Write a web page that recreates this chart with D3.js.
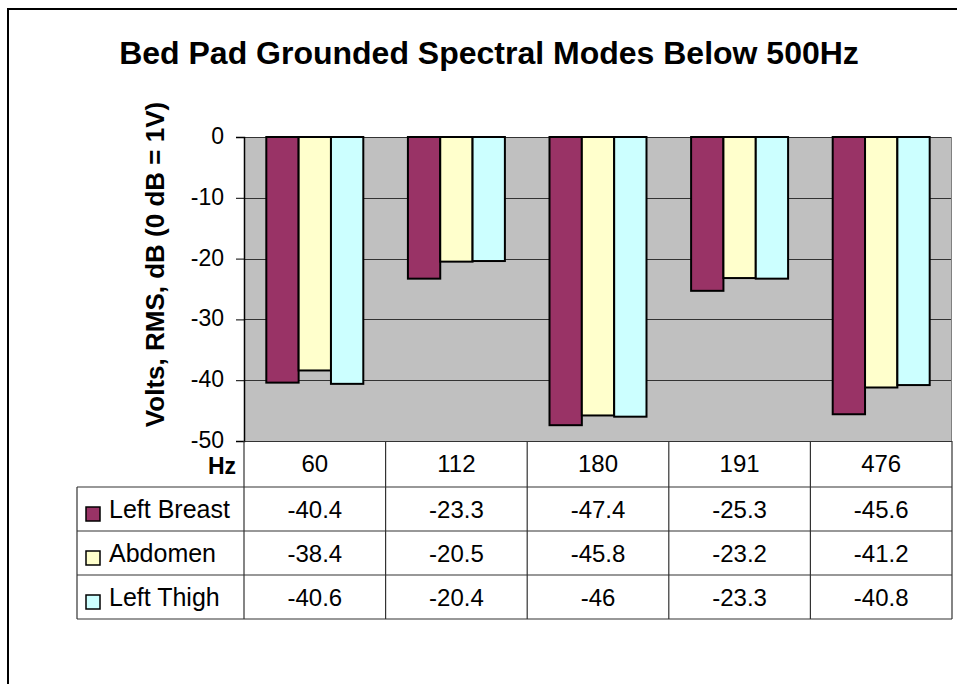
<!DOCTYPE html>
<html>
<head>
<meta charset="utf-8">
<script src="https://cdn.jsdelivr.net/npm/d3@7"></script>
<style>
  body { margin: 0; background: #fff; }
  svg { display: block; font-family: "Liberation Sans", Arial, sans-serif; }
</style>
</head>
<body>
<svg width="957" height="684"></svg>
<script>
// data
const categories = ['60', '112', '180', '191', '476'];
const seriesNames = ['Left Breast', 'Abdomen', 'Left Thigh'];
const leftBreast = [-40.4, -23.3, -47.4, -25.3, -45.6];
const abdomen = [-38.4, -20.5, -45.8, -23.2, -41.2];
const leftThigh = [-40.6, -20.4, -46, -23.3, -40.8];
const yTicks = [0, -10, -20, -30, -40, -50];
const colors = ['#993366', '#FFFFCC', '#CCFFFF'];

const seriesValues = [leftBreast, abdomen, leftThigh];

const svg = d3.select('svg');

// outer frame (cut off on right and bottom)
svg.append('rect')
    .attr('x', 8).attr('y', 9)
    .attr('width', 1000).attr('height', 1000)
    .attr('fill', '#fff')
    .attr('stroke', '#000')
    .attr('stroke-width', 2);

// title
svg.append('text')
    .attr('x', 489).attr('y', 64)
    .attr('text-anchor', 'middle')
    .attr('font-size', 32)
    .attr('font-weight', 'bold')
    .text('Bed Pad Grounded Spectral Modes Below 500Hz');

//layout
const plot = { left: 244, right: 952, top: 137, bottom: 441 };
const tableLeft = 77;
const headerH = 46;
const rowH = 44;
const fs = 24;

//scales
const x0 = d3.scaleBand()
    .domain(categories)
    .range([plot.left, plot.right]);
const x1 = d3.scaleBand()
    .domain(seriesNames)
    .range([0, x0.bandwidth()])
    .paddingOuter(0.69);
const y = d3.scaleLinear()
    .domain([-50, 0])
    .range([plot.bottom, plot.top]);

// plot background
svg.append('rect')
    .attr('x', plot.left).attr('y', plot.top)
    .attr('width', plot.right - plot.left)
    .attr('height', plot.bottom - plot.top)
    .attr('fill', '#C0C0C0');

// gridlines
svg.append('g')
    .selectAll('line')
    .data(yTicks)
    .join('line')
    .attr('x1', plot.left).attr('x2', plot.right)
    .attr('y1', d => Math.round(y(d)) + 0.5)
    .attr('y2', d => Math.round(y(d)) + 0.5)
    .attr('stroke', '#333')
    .attr('stroke-width', 1);

// right edge of plot
svg.append('line')
    .attr('x1', plot.right - 0.5).attr('x2', plot.right - 0.5)
    .attr('y1', plot.top).attr('y2', plot.bottom)
    .attr('stroke', '#808080');

// bars
const barGroups = svg.append('g')
    .selectAll('g')
    .data(seriesNames)
    .join('g')
    .attr('fill', (d, i) => colors[i]);

barGroups.selectAll('rect')
    .data((d, i) => categories.map((c, j) => ({ cat: c, name: d, value: seriesValues[i][j] })))
    .join('rect')
    .attr('x', d => x0(d.cat) + x1(d.name))
    .attr('y', y(0))
    .attr('width', x1.bandwidth())
    .attr('height', d => y(d.value) - y(0))
    .attr('stroke', '#000')
    .attr('stroke-width', 2);

// y axis
const yAxis = d3.axisLeft(y)
    .tickValues(yTicks)
    .tickSize(8)
    .tickFormat(d => String(d));
const yAxisGroup = svg.append('g')
    .attr('transform', 'translate(' + plot.left + ',0)')
    .call(yAxis);
yAxisGroup.select('.domain').attr('stroke', '#000').attr('stroke-width', 1.5);
yAxisGroup.selectAll('.tick line').attr('stroke', '#000');
yAxisGroup.selectAll('.tick text')
    .attr('x', -20)
    .attr('dy', '0.28em')
    .attr('fill', '#000')
    .attr('font-size', 23)
    .attr('font-family', '"Liberation Sans", Arial, sans-serif');

// y axis title
svg.append('text')
    .attr('transform', 'translate(164,' + ((97 + 432) / 2) + ') rotate(-90)')
    .attr('text-anchor', 'middle')
    .attr('font-size', 26)
    .attr('font-weight', 'bold')
    .text('Volts, RMS, dB (0 dB = 1V)');

// data table
const table = svg.append('g')
    .attr('stroke', '#333')
    .attr('stroke-width', 1.2);
const rowLines = d3.range(seriesNames.length + 1).map(i => plot.bottom + headerH + i * rowH);
const colLines = categories.map(c => x0(c)).concat([plot.right]);

table.selectAll('.hline')
    .data(rowLines)
    .join('line')
    .attr('class', 'hline')
    .attr('x1', tableLeft).attr('x2', plot.right)
    .attr('y1', d => d).attr('y2', d => d);
table.selectAll('.vline')
    .data(colLines)
    .join('line')
    .attr('class', 'vline')
    .attr('x1', d => d).attr('x2', d => d)
    .attr('y1', plot.bottom).attr('y2', rowLines[rowLines.length - 1]);
table.append('line')
    .attr('x1', tableLeft).attr('x2', tableLeft)
    .attr('y1', rowLines[0]).attr('y2', rowLines[rowLines.length - 1]);

// header row
svg.append('text')
    .attr('x', 236).attr('y', plot.bottom + 33)
    .attr('text-anchor', 'end')
    .attr('font-size', 23)
    .attr('font-weight', 'bold')
    .text('Hz');
svg.append('g')
    .selectAll('text')
    .data(categories)
    .join('text')
    .attr('x', d => x0(d) + x0.bandwidth() / 2)
    .attr('y', plot.bottom + 31)
    .attr('text-anchor', 'middle')
    .attr('font-size', fs)
    .text(d => d);

// value rows + legend keys
seriesNames.forEach((name, i) => {
    const base = rowLines[i] + 31;
    svg.append('rect')
        .attr('x', 86).attr('y', base - 11)
        .attr('width', 14).attr('height', 14)
        .attr('fill', colors[i])
        .attr('stroke', '#000')
        .attr('stroke-width', 1.5);
    svg.append('text')
        .attr('x', 109).attr('y', base)
        .attr('font-size', 25)
        .text(name);
    svg.append('g')
        .selectAll('text')
        .data(seriesValues[i])
        .join('text')
        .attr('x', (d, j) => x0(categories[j]) + x0.bandwidth() / 2)
        .attr('y', base)
        .attr('text-anchor', 'middle')
        .attr('font-size', fs)
        .text(d => d);
});
</script>
</body>
</html>
